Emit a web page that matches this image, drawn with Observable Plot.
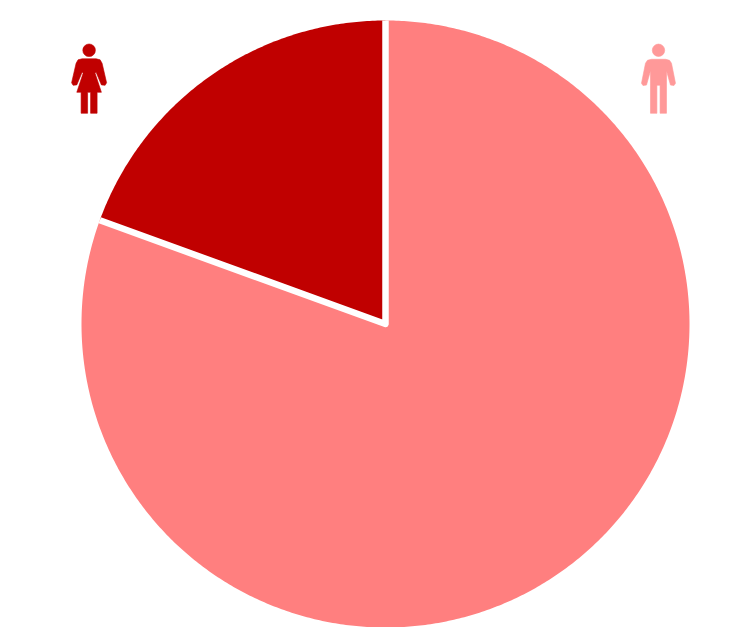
<!DOCTYPE html>
<html>
<head>
<meta charset="utf-8">
<script src="https://cdn.jsdelivr.net/npm/d3@7"></script>
<script src="https://cdn.jsdelivr.net/npm/@observablehq/plot@0.6"></script>
<style>
html,body{margin:0;padding:0;background:#fff;}
svg{display:block;filter:blur(0.5px);}
</style>
</head>
<body>
<div id="chart"></div>
<script>
const categories = ["Men", "Women"];
const shares = [80.55, 19.45];
const sliceColors = ["#FF7F7F", "#C00000"];
const iconColors = ["#FF9999", "#C00000"];

// Each icon outline, in pixels around its own anchor
const manOutline = [[-7,-21],[-11,-20],[-13,-17],[-17,3],[-15.5,5.2],[-12,4.8],[-8,-9.5],[-8,33],[-1.6,33],[-1.6,5],[1.6,5],[1.6,33],[8,33],[8,-9.5],[12,4.8],[15.5,5.2],[17,3],[13,-17],[11,-20],[7,-21]];
const womanOutline = [[-7,-21.5],[-11,-20.5],[-13,-17],[-17.5,2.5],[-16,5],[-12.3,4.6],[-7,-8],[-6,-7],[-12.3,12],[-8,12],[-8,33],[-1.5,33],[-1.5,12],[1.5,12],[1.5,33],[8,33],[8,12],[12.3,12],[6,-7],[7,-8],[12.3,4.6],[16,5],[17.5,2.5],[13,-17],[11,-20.5],[7,-21.5]];

function figure(outline, headY, headR) {
  return {
    draw(context) {
      outline.forEach(([x, y], i) => i ? context.lineTo(x, y) : context.moveTo(x, y));
      context.closePath();
      context.moveTo(headR, headY);
      context.arc(0, headY, headR, 0, 2 * Math.PI);
      context.closePath();
    }
  };
}

// Sector outlines follow from the shares, through d3.pie
const arcs = d3.pie().sort(null)(shares);
const polar = (a) => ({x: Math.sin(a), y: Math.cos(a)});
const sectors = arcs.flatMap((arc, i) => {
  const steps = Math.ceil((arc.endAngle - arc.startAngle) / (Math.PI / 360));
  const rim = d3.range(steps + 1).map((k) =>
    polar(arc.startAngle + (arc.endAngle - arc.startAngle) * k / steps));
  return [{x: 0, y: 0}, ...rim].map((p) => ({...p, category: categories[i]}));
});
const womanArc = arcs[1];
const separator = [polar(womanArc.startAngle), {x: 0, y: 0}, polar(womanArc.endAngle)];

const chart = Plot.plot({
  width: 731,
  height: 627,
  marginLeft: 81,
  marginRight: 42,
  marginTop: 20,
  marginBottom: 0,
  x: {domain: [-1, 1], axis: null},
  y: {domain: [-1, 1], axis: null},
  color: {domain: categories, range: sliceColors},
  style: {background: "#fff"},
  marks: [
    Plot.line(sectors, {x: "x", y: "y", z: "category", fill: "category", stroke: "none", curve: "linear"}),
    Plot.line(separator, {x: "x", y: "y", stroke: "#fff", strokeWidth: 6.5, strokeMiterlimit: 4, strokeLinecap: "butt", curve: "linear"}),
    Plot.dot([{x: 0.898, y: 0.803}], {x: "x", y: "y", r: 10, stroke: iconColors[0], strokeWidth: 0.6, fill: iconColors[0], symbol: figure(manOutline, -30, 6.2)}),
    Plot.dot([{x: -0.975, y: 0.803}], {x: "x", y: "y", r: 10, stroke: iconColors[1], strokeWidth: 0.6, fill: iconColors[1], symbol: figure(womanOutline, -30, 6.3)})
  ]
});
document.getElementById("chart").append(chart);
</script>
</body>
</html>
